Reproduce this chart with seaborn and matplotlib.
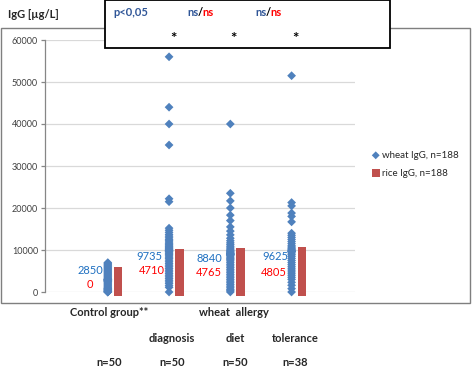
import numpy as np
import pandas as pd
import matplotlib
matplotlib.use('Agg')
import matplotlib.pyplot as plt
from matplotlib.patches import Rectangle
import seaborn as sns

# groups along the x axis
groups = ['control', 'diagnosis', 'diet', 'tolerance']

# wheat IgG values per group
wheat_control = [7000, 6800, 6600, 6400, 6200, 6000, 5800, 5600, 5400, 5200,
                 5000, 4800, 4600, 4400, 4200, 4000, 3800, 3600, 3400, 3200,
                 3100, 3000, 2950, 2900, 2870, 2830, 2800, 2700, 2600, 2500,
                 2400, 2200, 2000, 1800, 1600, 1400, 1200, 1000, 900, 800,
                 700, 600, 500, 400, 300, 200, 100, 0, 0, 0]
wheat_diagnosis = [56000, 44000, 40000, 35000, 22200, 21500, 15200, 14700, 14200, 13700,
                   13300, 12900, 12500, 12200, 11900, 11600, 11300, 11000, 10800, 10600,
                   10400, 10200, 10000, 9850, 9770, 9700, 9500, 9200, 8900, 8600,
                   8300, 8000, 7600, 7200, 6800, 6400, 6000, 5600, 5200, 4800,
                   4400, 4000, 3600, 3200, 2800, 2400, 2000, 1500, 1100, 0]
wheat_diet = [40000, 23500, 21700, 20000, 18300, 17000, 15500, 14500, 13600, 12800,
              12200, 11700, 11300, 10900, 10500, 10200, 9900, 9700, 9500, 9300,
              9200, 9100, 9000, 8950, 8880, 8800, 8600, 8300, 8000, 7700,
              7400, 7000, 6600, 6200, 5800, 5400, 5000, 4600, 4200, 3800,
              3400, 3000, 2600, 2200, 1800, 1400, 1000, 600, 300, 0]
wheat_tolerance = [51500, 21300, 20500, 18800, 18000, 16700, 14000, 13500, 13000, 12500,
                   12000, 11500, 11000, 10700, 10400, 10100, 9900, 9750, 9650, 9600,
                   9300, 8900, 8500, 8000, 7500, 7000, 6500, 6000, 5500, 5000,
                   4500, 4000, 3500, 3000, 2300, 1600, 800, 0]

# rice IgG values per group
rice_control = [5000, 4800, 4600, 4400, 4200, 4000, 3800, 3600, 3400, 3200,
                3000, 2800, 2600, 2400, 2200, 2000, 1800, 1600, 1400, 1200,
                1000, 800, 600, 400] + [0] * 26
rice_diagnosis = [9300, 9100, 8900, 8700, 8500, 8300, 8100, 7900, 7700, 7500,
                  7300, 7100, 6900, 6700, 6500, 6300, 6100, 5900, 5700, 5500,
                  5300, 5100, 4950, 4800, 4730, 4690, 4500, 4300, 4100, 3900,
                  3700, 3500, 3300, 3100, 2900, 2700, 2500, 2300, 2100, 1900,
                  1700, 1500, 1300, 1100, 900, 700, 500, 300, 100, 0]
rice_diet = [9500, 9300, 9100, 8900, 8700, 8500, 8300, 8100, 7900, 7700,
             7500, 7300, 7100, 6900, 6700, 6500, 6300, 6100, 5900, 5700,
             5500, 5300, 5100, 4900, 4790, 4740, 4500, 4300, 4100, 3900,
             3700, 3500, 3300, 3100, 2900, 2700, 2500, 2300, 2100, 1900,
             1700, 1500, 1300, 1100, 900, 700, 500, 300, 100, 0]
rice_tolerance = [9700, 9400, 9100, 8800, 8500, 8200, 7900, 7600, 7300, 7000,
                  6700, 6400, 6100, 5800, 5500, 5200, 5000, 4900, 4830, 4780,
                  4600, 4300, 4000, 3700, 3400, 3100, 2800, 2500, 2200, 1900,
                  1600, 1300, 1000, 700, 400, 200, 100, 0]

wheat_medians = ['2850', '9735', '8840', '9625']
rice_medians = ['0', '4710', '4765', '4805']
group_labels = ['diagnosis', 'diet', 'tolerance']
n_labels = ['n=50', 'n=50', 'n=50', 'n=38']
p_labels = ['p<0,05', 'ns', 'ns']

wheat = [wheat_control, wheat_diagnosis, wheat_diet, wheat_tolerance]
rice = [rice_control, rice_diagnosis, rice_diet, rice_tolerance]

rows = []
for i, g in enumerate(groups):
    for v in wheat[i]:
        rows.append({'group': i + 1, 'series': 'wheat', 'IgG': v})
    for v in rice[i]:
        rows.append({'group': i + 1, 'series': 'rice', 'IgG': v})
df = pd.DataFrame(rows)
df['x'] = df['group'] + np.where(df['series'] == 'wheat', -0.085, 0.085)

sns.set_style('white')
plt.rcParams['font.family'] = ['Lato', 'DejaVu Sans']

W, H = 473, 368
fig = plt.figure(figsize=(W / 100, H / 100), dpi=100)
ax = fig.add_axes([45 / W, (H - 292) / H, 310 / W, 252 / H])


def px(x, y):
    return x / W, 1 - y / H


blue_mark = '#4f81bd'
red_mark = '#c0504d'
blue_txt = '#1f70c1'
red_txt = '#ff0000'

sns.scatterplot(data=df[df.series == 'wheat'], x='x', y='IgG', marker='D', s=20,
                color=blue_mark, edgecolor='none', linewidth=0, clip_on=False,
                zorder=3, ax=ax, label='wheat IgG, n=188')
sns.scatterplot(data=df[df.series == 'rice'], x='x', y='IgG', marker='s', s=38,
                color=red_mark, edgecolor='none', linewidth=0, clip_on=False,
                zorder=2, ax=ax, label='rice IgG, n=188')

ax.set_xlim(-0.11, 4.95)
ax.set_ylim(0, 60000)
ax.set_yticks(range(0, 60001, 10000))
ax.set_xticks([])
ax.set_xlabel('')
ax.set_ylabel('')
ax.yaxis.grid(True, color='#d9d9d9', lw=0.9)
ax.set_axisbelow(True)
for s in ['top', 'right', 'bottom']:
    ax.spines[s].set_visible(False)
ax.spines['left'].set_color('#868686')
ax.spines['left'].set_linewidth(0.9)
ax.tick_params(axis='y', length=3, width=0.9, color='#868686', labelsize=6.5,
               labelcolor='#404040', pad=2, left=True)

handles, labels = ax.get_legend_handles_labels()
ax.get_legend().remove()
fig.legend(handles, labels, loc='upper left', bbox_to_anchor=px(366, 146),
           frameon=False, fontsize=7, handletextpad=0.1, labelspacing=0.9,
           handlelength=1.0, borderpad=0, markerscale=0.9)

# chart frame
fig.patches.append(Rectangle(px(1, 303), 469 / W, 275 / H, transform=fig.transFigure,
                             fill=False, ec='#7f7f7f', lw=1.0, zorder=0))

fig.text(*px(8, 14), 'IgG [µg/L]', fontsize=8, fontweight='bold', va='center',
         color='#262626')

# annotation box on top
fig.patches.append(Rectangle(px(105, 48), 285 / W, 48 / H, transform=fig.transFigure,
                             fc='white', ec='black', lw=1.3, zorder=5))
fig.text(*px(113, 13), p_labels[0], fontsize=8, fontweight='bold', color='#2f5597',
         va='center', zorder=6)

renderer = fig.canvas.get_renderer()
for x0 in [187, 255]:
    xx = x0
    for part, col in [('ns', '#2f5597'), ('/', 'black'), ('ns', red_txt)]:
        t = fig.text(*px(xx, 13), part, fontsize=8, fontweight='bold', color=col,
                     va='center', zorder=6)
        xx += t.get_window_extent(renderer).width - 0.5
for x0 in [173, 233, 295]:
    fig.text(*px(x0, 39), '*', fontsize=11, fontweight='bold', color='black',
             ha='center', va='center', zorder=6)

# median labels
wpos = [(103, 271), (162, 256), (222, 258), (288, 257)]
rpos = [(93, 285), (165, 270), (222, 273), (287, 272)]
for lab, (x0, y0) in zip(wheat_medians, wpos):
    fig.text(*px(x0, y0), lab, fontsize=8, color=blue_txt, ha='right', va='center')
for lab, (x0, y0) in zip(rice_medians, rpos):
    fig.text(*px(x0, y0), lab, fontsize=8, color=red_txt, ha='right', va='center')

# group labels below the frame
fig.text(*px(109, 313), 'Control group**', fontsize=8, fontweight='bold',
         ha='center', va='center')
fig.text(*px(234, 313), 'wheat  allergy', fontsize=8, fontweight='bold',
         ha='center', va='center')
for lab, x0 in zip(group_labels, [172, 235, 295]):
    fig.text(*px(x0, 338), lab, fontsize=8, fontweight='bold', ha='center', va='center')
for lab, x0 in zip(n_labels, [109, 172, 235, 295]):
    fig.text(*px(x0, 362), lab, fontsize=8, fontweight='bold', ha='center', va='center')

fig.savefig('out.png', dpi=100)
